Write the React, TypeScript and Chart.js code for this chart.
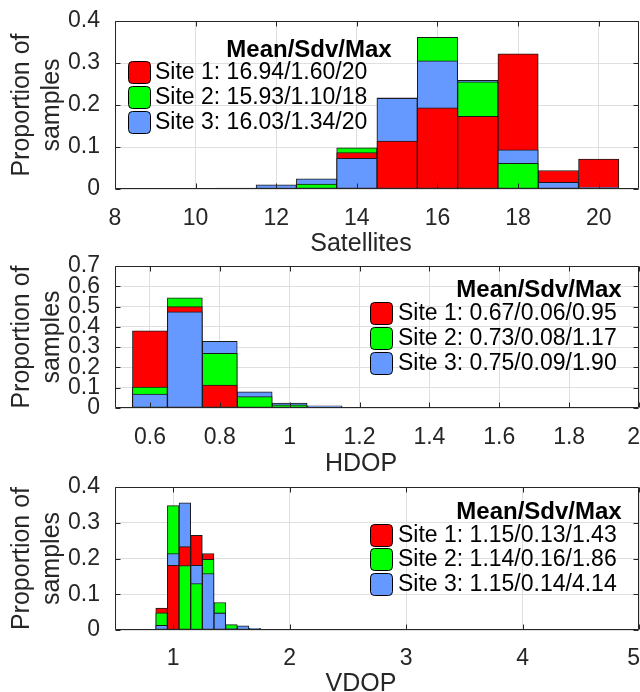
import React, { useEffect, useRef } from 'react';
import { Chart, registerables } from 'chart.js';

Chart.register(...registerables);

const FONT = "'Liberation Sans', Arial, Helvetica, sans-serif";
Chart.defaults.font.family = FONT;

const AXIS_COLOR = '#262626';
const GRID_COLOR = '#dfdfdf';
const BAR_BORDER = '#1a1a1a';
const SITE_COLORS = ['#ff0000', '#00ff00', '#6699ff'];
const Y_TITLE = ['Proportion of', 'samples'];
const LEGEND_TITLE = 'Mean/Sdv/Max';

// ---- Satellites ----
const satBins = [11, 12, 13, 14, 15, 16, 17, 18, 19, 20];
const satSite1 = [0, 0, 0, 0.087, 0.114, 0.193, 0.173, 0.322, 0.044, 0.071];
const satSite2 = [0, 0, 0.012, 0.098, 0.217, 0.361, 0.255, 0.061, 0, 0];
const satSite3 = [0.002, 0.01, 0.024, 0.073, 0.216, 0.305, 0.259, 0.093, 0.016, 0.004];
const satXTicks = [8, 10, 12, 14, 16, 18, 20];
const satYTicks = [0, 0.1, 0.2, 0.3, 0.4];
const satLegend = ['Site 1: 16.94/1.60/20', 'Site 2: 15.93/1.10/18', 'Site 3: 16.03/1.34/20'];

// ---- HDOP ----
const hdopBins = [0.6, 0.7, 0.8, 0.9, 1.0, 1.1];
const hdopSite1 = [0.381, 0.5, 0.113, 0.003, 0, 0];
const hdopSite2 = [0.103, 0.543, 0.27, 0.056, 0.016, 0.004];
const hdopSite3 = [0.069, 0.474, 0.329, 0.08, 0.024, 0.011];
const hdopXTicks = [0.6, 0.8, 1, 1.2, 1.4, 1.6, 1.8, 2];
const hdopYTicks = [0, 0.1, 0.2, 0.3, 0.4, 0.5, 0.6, 0.7];
const hdopLegend = ['Site 1: 0.67/0.06/0.95', 'Site 2: 0.73/0.08/1.17', 'Site 3: 0.75/0.09/1.90'];

// ---- VDOP ----
const vdopBins = [0.9, 1.0, 1.1, 1.2, 1.3, 1.4, 1.5, 1.6, 1.7, 1.8];
const vdopSite1 = [0.061, 0.181, 0.233, 0.265, 0.214, 0.048, 0, 0, 0, 0];
const vdopSite2 = [0.048, 0.348, 0.18, 0.13, 0.198, 0.077, 0.015, 0.002, 0, 0.001];
const vdopSite3 = [0.013, 0.214, 0.356, 0.181, 0.158, 0.047, 0.004, 0.012, 0.005, 0.002];
const vdopXTicks = [1, 2, 3, 4, 5];
const vdopYTicks = [0, 0.1, 0.2, 0.3, 0.4];
const vdopLegend = ['Site 1: 1.15/0.13/1.43', 'Site 2: 1.14/0.16/1.86', 'Site 3: 1.15/0.14/4.14'];

type PanelCfg = {
  bins: number[];
  series: number[][];
  xMin: number;
  xMax: number;
  xTicks: number[];
  yMax: number;
  yTicks: number[];
  xTitle: string;
  legend: string[];
  top: number;
  height: number;
  padTop: number;
  xAxisH: number;
  tickLabelOffset: number;
  titleX: number;
  titleBase: number;
  legBoxX: number;
  legTextX: number;
  legRows: number[];
  legTitleX: number;
  legTitleY: number;
};

const panels: PanelCfg[] = [
  {
    bins: satBins, series: [satSite1, satSite2, satSite3],
    xMin: 8, xMax: 21, xTicks: satXTicks, yMax: 0.4, yTicks: satYTicks,
    xTitle: 'Satellites', legend: satLegend,
    top: 0, height: 255, padTop: 21, xAxisH: 66, tickLabelOffset: 30,
    titleX: 361, titleBase: 251,
    legBoxX: 128, legTextX: 155, legRows: [72, 97, 122], legTitleX: 309, legTitleY: 50,
  },
  {
    bins: hdopBins, series: [hdopSite1, hdopSite2, hdopSite3],
    xMin: 0.5, xMax: 2, xTicks: hdopXTicks, yMax: 0.7, yTicks: hdopYTicks,
    xTitle: 'HDOP', legend: hdopLegend,
    top: 255, height: 220, padTop: 11, xAxisH: 67, tickLabelOffset: 30,
    titleX: 361, titleBase: 216,
    legBoxX: 370, legTextX: 398, legRows: [58, 83, 108], legTitleX: 539, legTitleY: 35,
  },
  {
    bins: vdopBins, series: [vdopSite1, vdopSite2, vdopSite3],
    xMin: 0.5, xMax: 5, xTicks: vdopXTicks, yMax: 0.4, yTicks: vdopYTicks,
    xTitle: 'VDOP', legend: vdopLegend,
    top: 475, height: 217, padTop: 12, xAxisH: 62, tickLabelOffset: 29,
    titleX: 361, titleBase: 216,
    legBoxX: 370, legTextX: 398, legRows: [60, 84, 109], legTitleX: 539, legTitleY: 37,
  },
];

// Overlaid histogram: for each bin, tallest drawn behind, shortest in front.
function buildDatasets(bins: number[], series: number[][]) {
  const ranks: { x: number; y: number; color: string }[][] = [[], [], []];
  bins.forEach((b, i) => {
    const items = series.map((s, k) => ({ v: s[i], k }));
    items.sort((a, c) => c.v - a.v || a.k - c.k);
    items.forEach((it, r) => ranks[r].push({ x: b, y: it.v, color: SITE_COLORS[it.k] }));
  });
  return ranks.map((pts, r) => ({
    type: 'bar' as const,
    data: pts.map((p) => ({ x: p.x, y: p.y })),
    backgroundColor: pts.map((p) => p.color),
    borderColor: BAR_BORDER,
    borderWidth: 1,
    borderSkipped: false,
    barPercentage: 1,
    categoryPercentage: 1,
    grouped: false,
    order: 2 - r,
  }));
}

function makeOverlayPlugin(cfg: PanelCfg) {
  return {
    id: 'overlay',
    afterDatasetsDraw(chart: any) {
      const { ctx, chartArea: a, scales, width } = chart;
      ctx.save();
      // frame with inward ticks
      ctx.strokeStyle = AXIS_COLOR;
      ctx.lineWidth = 1;
      const L = Math.round(a.left) + 0.5;
      const R = Math.round(a.right) - 0.5;
      const T = Math.round(a.top) + 0.5;
      const B = Math.round(a.bottom) - 0.5;
      ctx.beginPath();
      ctx.rect(L, T, R - L, B - T);
      const tl = 5;
      scales.x.ticks.forEach((t: any) => {
        const px = Math.round(scales.x.getPixelForValue(t.value)) + 0.5;
        ctx.moveTo(px, B);
        ctx.lineTo(px, B - tl);
        ctx.moveTo(px, T);
        ctx.lineTo(px, T + tl);
      });
      scales.y.ticks.forEach((t: any) => {
        const py = Math.round(scales.y.getPixelForValue(t.value)) + 0.5;
        ctx.moveTo(L, py);
        ctx.lineTo(L + tl, py);
        ctx.moveTo(R, py);
        ctx.lineTo(R - tl, py);
      });
      ctx.stroke();

      // x tick labels (kept inside the canvas at the right edge)
      ctx.fillStyle = AXIS_COLOR;
      ctx.font = `23px ${FONT}`;
      ctx.textAlign = 'center';
      ctx.textBaseline = 'middle';
      cfg.xTicks.forEach((v) => {
        const label = String(v);
        const w = ctx.measureText(label).width;
        let px = scales.x.getPixelForValue(v);
        if (px + w / 2 > width) px = width - w / 2;
        ctx.fillText(label, px, a.bottom + cfg.tickLabelOffset);
      });

      // x axis title
      ctx.font = `25px ${FONT}`;
      ctx.textAlign = 'center';
      ctx.textBaseline = 'alphabetic';
      ctx.fillText(cfg.xTitle, cfg.titleX, cfg.titleBase);

      // legend
      ctx.fillStyle = '#000';
      ctx.font = `bold 24px ${FONT}`;
      ctx.textAlign = 'center';
      ctx.textBaseline = 'middle';
      ctx.fillText(LEGEND_TITLE, cfg.legTitleX, cfg.legTitleY);
      ctx.font = `23px ${FONT}`;
      ctx.textAlign = 'left';
      cfg.legend.forEach((label, i) => {
        const cy = cfg.legRows[i];
        ctx.beginPath();
        ctx.roundRect(cfg.legBoxX + 0.5, cy - 11 + 0.5, 22, 22, 4);
        ctx.fillStyle = SITE_COLORS[i];
        ctx.fill();
        ctx.strokeStyle = '#000';
        ctx.lineWidth = 1;
        ctx.stroke();
        ctx.fillStyle = '#000';
        ctx.fillText(label, cfg.legTextX, cy + 1);
      });
      ctx.restore();
    },
  };
}

function Panel({ cfg }: { cfg: PanelCfg }) {
  const ref = useRef<HTMLCanvasElement>(null);
  useEffect(() => {
    const tickFont = { size: 23, family: FONT };
    const chart = new Chart(ref.current as HTMLCanvasElement, {
      type: 'bar',
      data: { datasets: buildDatasets(cfg.bins, cfg.series) as any },
      options: {
        animation: false,
        responsive: false,
        layout: { padding: { top: cfg.padTop, right: 1, left: 0, bottom: 0 } },
        plugins: { legend: { display: false }, tooltip: { enabled: false } },
        scales: {
          x: {
            type: 'linear',
            min: cfg.xMin,
            max: cfg.xMax,
            offset: false,
            grid: { color: GRID_COLOR, drawTicks: false, offset: false, lineWidth: 1 },
            border: { display: false },
            ticks: { display: false },
            afterBuildTicks: (s: any) => {
              s.ticks = cfg.xTicks.map((v) => ({ value: v }));
            },
            afterFit: (s: any) => {
              s.height = cfg.xAxisH;
              s.paddingLeft = 0;
              s.paddingRight = 0;
            },
          },
          y: {
            type: 'linear',
            min: 0,
            max: cfg.yMax,
            grid: { color: GRID_COLOR, drawTicks: false, lineWidth: 1 },
            border: { display: false },
            ticks: {
              font: tickFont,
              color: AXIS_COLOR,
              padding: 15,
              autoSkip: false,
              callback: (v: any) => String(v),
            },
            afterBuildTicks: (s: any) => {
              s.ticks = cfg.yTicks.map((v) => ({ value: v }));
            },
            afterFit: (s: any) => {
              s.width = 115;
              s.paddingTop = 0;
              s.paddingBottom = 0;
            },
            title: {
              display: true,
              text: Y_TITLE,
              color: AXIS_COLOR,
              font: { size: 25, family: FONT, lineHeight: 1.2 },
              padding: { top: 7, bottom: 0 },
            },
          },
        },
      } as any,
      plugins: [makeOverlayPlugin(cfg)],
    });
    return () => chart.destroy();
  }, [cfg]);
  return (
    <div style={{ position: 'absolute', left: 0, top: cfg.top, width: 640, height: cfg.height }}>
      <canvas ref={ref} width={640} height={cfg.height} style={{ width: 640, height: cfg.height, display: 'block' }} />
    </div>
  );
}

export default function App() {
  return (
    <div style={{ position: 'fixed', left: 0, top: 0, width: 640, height: 692, background: '#fff', overflow: 'hidden' }}>
      {panels.map((p, i) => (
        <Panel key={i} cfg={p} />
      ))}
    </div>
  );
}
